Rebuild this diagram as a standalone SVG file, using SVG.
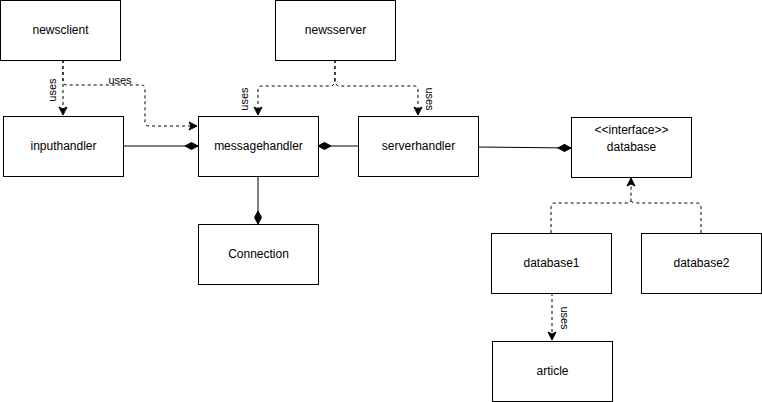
<svg xmlns="http://www.w3.org/2000/svg" width="762" height="402" viewBox="0 0 762 402">
<defs>
<style>
.box{fill:#fff;stroke:#000;stroke-width:1}
.t{font-family:"Liberation Sans",Arial,sans-serif;font-size:12px;fill:#000;text-anchor:middle;dominant-baseline:central}
.l{font-family:"Liberation Sans",Arial,sans-serif;font-size:11px;fill:#000;text-anchor:middle;dominant-baseline:central}
.c{fill:none;stroke:#000;stroke-width:1}
.d{stroke-dasharray:3 3}
</style>
<marker id="arr" viewBox="0 0 10 10" refX="9" refY="5" markerWidth="10" markerHeight="10" markerUnits="userSpaceOnUse" orient="auto">
<path d="M1,1 L9,5 L1,9 L3,5 Z" fill="#000" stroke="#000" stroke-width="1"/>
</marker>
<marker id="dia" viewBox="0 0 14 8" refX="13.5" refY="4" markerWidth="14" markerHeight="8" markerUnits="userSpaceOnUse" orient="auto">
<path d="M0.5,4 L7,0.5 L13.5,4 L7,7.5 Z" fill="#000" stroke="#000" stroke-width="1"/>
</marker>
</defs>
<rect width="762" height="402" fill="#fff"/>
<g id="connectors">
<path class="c d" d="M63,60 V115" marker-end="url(#arr)"/>
<path class="c d" d="M63,60 V81 Q63,85 67,85 H141 Q145,85 145,89 V122 Q145,126 149,126 H197" marker-end="url(#arr)"/>
<path class="c d" d="M335,60 V78 Q335,86 331,86 H262 Q258,86 258,90 V115" marker-end="url(#arr)"/>
<path class="c d" d="M335,60 V78 Q335,86 339,86 H414 Q418,86 418,90 V115" marker-end="url(#arr)"/>
<path class="c" d="M123,146 H198" marker-end="url(#dia)"/>
<path class="c" d="M358,146 H318" marker-end="url(#dia)"/>
<path class="c" d="M478,147 L571,148" marker-end="url(#dia)"/>
<path class="c" d="M258,176 V224" marker-end="url(#dia)"/>
<path class="c d" d="M551,233 V207 Q551,203 555,203 H627 Q631,203 631,199 V178" marker-end="url(#arr)"/>
<path class="c d" d="M701,233 V207 Q701,203 697,203 H635 Q631,203 631,199"/>
<path class="c d" d="M552,293 V340" marker-end="url(#arr)"/>
<text class="l" transform="translate(52,90) rotate(-90)">uses</text>
<text class="l" x="120" y="80">uses</text>
<text class="l" transform="translate(244,99) rotate(-90)">uses</text>
<text class="l" transform="translate(430,99) rotate(90)">uses</text>
<text class="l" transform="translate(565,318) rotate(90)">uses</text>
</g>
<g id="newsclient"><rect class="box" x="0.5" y="0.5" width="120" height="60"/><text class="t" x="60.5" y="30">newsclient</text></g>
<g id="newsserver"><rect class="box" x="275.5" y="0.5" width="120" height="60"/><text class="t" x="335.5" y="30">newsserver</text></g>
<g id="inputhandler"><rect class="box" x="3.5" y="116.5" width="120" height="60"/><text class="t" x="63.5" y="146">inputhandler</text></g>
<g id="messagehandler"><rect class="box" x="198.5" y="116.5" width="120" height="60"/><text class="t" x="258.5" y="146">messagehandler</text></g>
<g id="serverhandler"><rect class="box" x="358.5" y="116.5" width="120" height="60"/><text class="t" x="418.5" y="146">serverhandler</text></g>
<g id="database"><rect class="box" x="571.5" y="117.5" width="120" height="60"/><text class="t" x="631.5" y="130">&lt;&lt;interface&gt;&gt;</text><text class="t" x="631.5" y="147">database</text></g>
<g id="Connection"><rect class="box" x="198.5" y="224.5" width="120" height="60"/><text class="t" x="258.5" y="254">Connection</text></g>
<g id="database1"><rect class="box" x="491.5" y="233.5" width="120" height="60"/><text class="t" x="551.5" y="263">database1</text></g>
<g id="database2"><rect class="box" x="641.5" y="233.5" width="120" height="60"/><text class="t" x="701.5" y="263">database2</text></g>
<g id="article"><rect class="box" x="492.5" y="341.5" width="120" height="60"/><text class="t" x="552.5" y="371">article</text></g>
</svg>
